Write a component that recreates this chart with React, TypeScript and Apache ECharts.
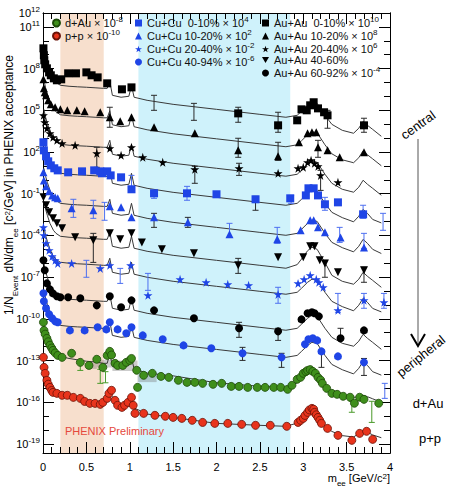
import React, { useEffect, useRef } from 'react';
import * as echarts from 'echarts';

// ---- axis ticks / labels (exponents of 10) ----
const yLabelExponents = [12, 11, 8, 5, 2, -1, -4, -7, -10, -13, -16, -19];
const yTickExponents = [12, 11, 10, 9, 8, 7, 6, 5, 4, 3, 2, 1, 0, -1, -2, -3, -4, -5, -6, -7, -8, -9, -10, -11, -12, -13, -14, -15, -16, -17, -18, -19];
const xTickLabels = ['0', '0.5', '1', '1.5', '2', '2.5', '3', '3.5', '4'];

// mass windows shaded in the figure (GeV/c^2)
const bandPeach = [0.2, 0.7];
const bandCyan = [1.1, 2.85];

// ---- model (cocktail) curves: masses and log10 of yield ----
const curveMass = [0.01, 0.03, 0.05, 0.08, 0.12, 0.15, 0.2, 0.3, 0.4, 0.5, 0.6, 0.7, 0.74, 0.77, 0.8, 0.9, 0.99, 1.02, 1.05, 1.2, 1.5, 2.0, 2.5, 2.8, 2.93, 2.98, 3.05, 3.1, 3.16, 3.25, 3.33, 3.45, 3.58, 3.64, 3.69, 3.74, 3.8, 3.9];
const auau0010Curve = [9.32, 8.74, 8.31, 7.73, 7.23, 7.01, 6.8, 6.73, 6.69, 6.66, 6.62, 6.58, 6.58, 7.09, 6.08, 5.94, 6.01, 6.8, 5.94, 5.72, 5.43, 5.07, 4.71, 4.5, 4.64, 4.93, 5.36, 5.58, 5.5, 4.64, 3.99, 3.56, 3.35, 3.71, 4.21, 3.92, 3.63, 3.13];
const auau1020Curve = [7.2, 6.62, 6.19, 5.61, 5.11, 4.89, 4.68, 4.61, 4.57, 4.54, 4.5, 4.46, 4.46, 4.97, 3.96, 3.82, 3.89, 4.68, 3.82, 3.6, 3.31, 2.95, 2.59, 2.38, 2.52, 2.81, 3.24, 3.46, 3.38, 2.52, 1.87, 1.44, 1.23, 1.59, 2.09, 1.8, 1.51, 1.01];
const auau2040Curve = [5.08, 4.5, 4.07, 3.49, 2.99, 2.77, 2.56, 2.49, 2.45, 2.42, 2.38, 2.34, 2.34, 2.85, 1.84, 1.7, 1.77, 2.56, 1.7, 1.48, 1.19, 0.83, 0.47, 0.26, 0.4, 0.69, 1.12, 1.34, 1.26, 0.4, -0.25, -0.68, -0.89, -0.53, -0.03, -0.32, -0.61, -1.11];
const cucu0010Curve = [2.99, 2.41, 1.98, 1.4, 0.9, 0.68, 0.47, 0.4, 0.36, 0.33, 0.29, 0.25, 0.25, 0.76, -0.25, -0.39, -0.32, 0.47, -0.39, -0.61, -0.9, -1.26, -1.62, -1.83, -1.69, -1.4, -0.97, -0.75, -0.83, -1.69, -2.34, -2.72, -3.02, -2.62, -2.12, -2.41, -2.85, -3.1];
const cucu1020Curve = [0.83, 0.25, -0.18, -0.76, -1.26, -1.48, -1.69, -1.76, -1.8, -1.83, -1.87, -1.91, -1.91, -1.4, -2.41, -2.55, -2.48, -1.69, -2.55, -2.77, -3.06, -3.42, -3.78, -3.99, -3.85, -3.56, -3.13, -2.91, -2.99, -3.85, -4.5, -4.88, -5.18, -4.78, -4.28, -4.57, -5.0, -5.3];
const auau4060Curve = [-1.54, -2.12, -2.55, -3.13, -3.63, -3.85, -4.06, -4.13, -4.17, -4.2, -4.24, -4.28, -4.28, -3.77, -4.78, -4.92, -4.85, -4.06, -4.92, -5.14, -5.43, -5.79, -6.15, -6.36, -6.1, -5.7, -5.1, -4.85, -5.0, -5.95, -6.87, -7.3, -7.51, -7.15, -6.65, -6.94, -7.23, -7.73];
const cucu2040Curve = [-3.41, -3.99, -4.42, -5.0, -5.5, -5.72, -5.93, -6.0, -6.04, -6.07, -6.11, -6.15, -6.15, -5.64, -6.65, -6.79, -6.72, -5.93, -6.79, -7.01, -7.3, -7.66, -8.02, -8.23, -8.09, -7.8, -7.37, -7.15, -7.23, -8.09, -8.74, -9.12, -9.42, -9.02, -8.52, -8.81, -9.25, -9.5];
const auau6092Curve = [-6.0, -6.58, -7.01, -7.59, -8.09, -8.31, -8.52, -8.59, -8.63, -8.66, -8.7, -8.74, -8.74, -8.23, -9.24, -9.38, -9.31, -8.52, -9.38, -9.6, -9.89, -10.25, -10.61, -10.82, -10.68, -10.39, -9.96, -9.74, -9.82, -10.68, -11.33, -11.76, -11.97, -11.61, -11.11, -11.4, -11.69, -12.19];
const cucu4094Curve = [-7.95, -8.53, -8.96, -9.54, -10.04, -10.26, -10.47, -10.54, -10.58, -10.61, -10.65, -10.69, -10.69, -10.18, -11.19, -11.33, -11.26, -10.47, -11.33, -11.55, -11.84, -12.2, -12.56, -12.77, -12.63, -12.34, -11.91, -11.69, -11.77, -12.63, -13.28, -13.66, -13.96, -13.56, -13.06, -13.35, -13.8, -14.05];
const dAuCurve = [-10.7, -11.15, -11.5, -11.9, -12.3, -12.5, -12.7, -12.85, -12.95, -13.05, -13.1, -13.2, -13.2, -12.5, -13.4, -13.45, -13.35, -12.8, -13.6, -13.9, -14.1, -14.6, -14.85, -14.95, -14.6, -14.2, -13.8, -13.7, -13.85, -14.7, -15.3, -15.5, -15.65, -15.6, -15.5, -15.6, -15.75, -16.0];
const ppCurve = [-13.2, -14.0, -14.5, -14.93, -15.3, -15.36, -15.45, -15.6, -15.72, -15.94, -16.08, -16.1, -15.9, -15.2, -15.6, -16.3, -16.0, -15.4, -16.4, -16.85, -17.09, -17.52, -17.66, -17.73, -17.5, -17.25, -16.75, -16.45, -16.95, -17.7, -18.1, -18.4, -18.5, -18.25, -18.05, -18.15, -18.35, -18.55];

// ---- measured points: [mass GeV/c^2, log10 yield] ----
const auau0010Pts = [[0.005, 9.46], [0.01, 8.96], [0.015, 8.6], [0.025, 8.31], [0.045, 8.02], [0.07, 7.73], [0.09, 7.52], [0.125, 7.3], [0.16, 7.16], [0.21, 7.23], [0.29, 7.66], [0.38, 7.66], [0.5, 7.73], [0.56, 7.52], [0.63, 7.37], [0.74, 6.94], [0.91, 6.51], [1.02, 6.65], [2.25, 4.78], [2.71, 3.92], [2.93, 4.28], [2.98, 5.07], [3.04, 5.0], [3.08, 5.36], [3.12, 5.58], [3.17, 5.14], [3.24, 4.86], [3.28, 4.64], [3.7, 3.92]];
const auau1020Pts = [[0.005, 7.23], [0.01, 6.58], [0.02, 6.3], [0.035, 6.08], [0.06, 5.72], [0.09, 5.43], [0.14, 5.22], [0.2, 5.07], [0.28, 5.0], [0.39, 5.0], [0.48, 4.93], [0.66, 4.86], [0.77, 4.5], [0.89, 4.21], [1.02, 4.5], [1.28, 3.78], [1.75, 3.35], [2.25, 2.12], [2.71, 1.69], [2.95, 2.7], [3.05, 3.35], [3.1, 3.42], [3.15, 3.42], [3.17, 2.34], [3.28, 2.12], [3.42, 1.62], [3.7, 1.98]];
const auau2040Pts = [[0.005, 4.64], [0.02, 4.14], [0.045, 3.71], [0.08, 3.35], [0.115, 3.06], [0.16, 2.84], [0.22, 2.63], [0.37, 2.48], [0.62, 1.91], [0.77, 2.27], [0.9, 1.76], [1.02, 2.34], [1.15, 1.62], [1.38, 1.26], [1.75, 0.76], [2.26, 0.83], [2.71, 0.47], [2.94, 0.83], [3.0, 0.9], [3.05, 1.26], [3.09, 1.4], [3.13, 1.19], [3.17, 0.97], [3.2, 0.32], [3.4, -0.18]];
const cucu0010Pts = [[0.005, 2.7], [0.01, 2.12], [0.035, 1.69], [0.06, 1.33], [0.09, 1.04], [0.13, 0.83], [0.17, 0.68], [0.29, 0.54], [0.45, 0.61], [0.59, 0.68], [0.66, 0.61], [0.68, 0.47], [0.74, 0.61], [0.78, 0.32], [0.9, 0.18], [1.02, -0.68], [1.28, -0.97], [1.66, -0.97], [2.0, -1.04], [2.45, -1.4], [2.85, -1.33], [3.03, -1.12], [3.06, -0.61], [3.12, -0.61], [3.17, -1.12], [3.25, -1.76], [3.4, -1.62], [3.69, -2.48]];
const cucu1020Pts = [[0.005, 0.54], [0.01, -0.04], [0.035, -0.47], [0.07, -0.83], [0.105, -1.12], [0.14, -1.26], [0.17, -1.33], [0.33, -2.05], [0.58, -2.19], [0.77, -1.9], [0.9, -1.98], [1.02, -2.7], [1.28, -2.7], [1.67, -3.06], [2.15, -3.92], [2.7, -4.28], [2.97, -3.63], [3.08, -2.91], [3.12, -2.91], [3.17, -3.42], [3.25, -3.78], [3.43, -4.14], [3.7, -4.86]];
const auau4060Pts = [[0.005, -1.26], [0.035, -1.83], [0.07, -2.34], [0.115, -2.77], [0.16, -3.13], [0.22, -3.49], [0.37, -4.13], [0.58, -4.35], [0.77, -3.85], [0.89, -4.28], [1.02, -3.85], [1.14, -4.5], [1.37, -5.0], [1.74, -5.29], [2.25, -6.15], [2.71, -5.57], [3.0, -5.57], [3.08, -4.78], [3.13, -4.78], [3.19, -5.79], [3.25, -6.01], [3.4, -6.65], [3.7, -6.51]];
const cucu2040Pts = [[0.005, -3.42], [0.01, -3.99], [0.035, -4.57], [0.07, -5.07], [0.105, -5.5], [0.14, -5.79], [0.17, -6.01], [0.33, -6.01], [0.66, -6.37], [0.77, -6.15], [1.01, -6.15], [1.21, -8.31], [1.58, -7.16], [1.88, -7.37], [2.13, -7.52], [2.37, -7.59], [2.71, -8.24], [2.94, -7.45], [3.01, -7.16], [3.08, -6.87], [3.15, -7.16], [3.18, -7.37], [3.23, -7.73], [3.4, -9.39], [3.7, -8.67], [3.93, -8.81]];
const auau6092Pts = [[0.005, -5.79], [0.02, -6.51], [0.045, -7.45], [0.08, -7.88], [0.115, -8.17], [0.16, -8.38], [0.2, -8.45], [0.29, -8.45], [0.43, -8.52], [0.62, -9.03], [0.77, -8.38], [0.9, -9.17], [1.02, -8.67], [1.28, -9.39], [1.74, -9.96], [2.26, -10.68], [2.71, -10.9], [2.98, -10.04], [3.05, -9.6], [3.1, -9.53], [3.13, -9.6], [3.18, -9.82], [3.43, -11.4], [3.7, -10.83]];
const cucu4094Pts = [[0.005, -8.16], [0.01, -8.74], [0.035, -9.24], [0.07, -9.67], [0.105, -9.96], [0.14, -10.18], [0.17, -10.25], [0.31, -10.83], [0.48, -10.83], [0.63, -10.61], [0.73, -10.76], [0.77, -10.25], [0.86, -10.76], [0.96, -11.04], [1.02, -10.61], [1.15, -11.19], [1.38, -11.47], [1.62, -11.91], [1.94, -12.12], [2.3, -12.48], [2.75, -12.77], [3.02, -11.83], [3.06, -11.47], [3.11, -11.4], [3.16, -11.55], [3.21, -12.34], [3.4, -12.7], [3.7, -13.13]];
const dAuPts = [[0.005, -10.25], [0.012, -10.83], [0.025, -11.1], [0.045, -11.4], [0.06, -11.65], [0.08, -11.9], [0.1, -12.1], [0.115, -12.27], [0.14, -12.45], [0.17, -12.63], [0.22, -12.77], [0.33, -12.48], [0.43, -13.13], [0.53, -13.35], [0.62, -12.91], [0.69, -13.49], [0.74, -12.63], [0.77, -12.34], [0.79, -12.6], [0.83, -13.2], [0.86, -13.35], [0.92, -13.35], [0.96, -13.13], [1.0, -12.99], [1.02, -12.85], [1.08, -13.7], [1.09, -14.93], [1.16, -14.06], [1.26, -13.92], [1.36, -14.14], [1.45, -14.21], [1.56, -14.42], [1.66, -14.57], [1.75, -14.57], [1.84, -14.64], [1.96, -14.71], [2.06, -14.64], [2.17, -14.86], [2.26, -14.86], [2.36, -14.93], [2.47, -14.93], [2.56, -14.93], [2.66, -14.93], [2.74, -14.93], [2.82, -15.07], [2.87, -14.78], [2.93, -14.35], [2.97, -14.2], [3.0, -13.92], [3.03, -13.8], [3.05, -13.71], [3.08, -13.65], [3.11, -13.78], [3.14, -13.92], [3.17, -14.21], [3.2, -14.4], [3.22, -14.64], [3.27, -15.0], [3.33, -15.36], [3.39, -15.43], [3.46, -15.57], [3.54, -15.64], [3.59, -16.07], [3.65, -15.64], [3.7, -15.79], [3.87, -16.07]];
const ppPts = [[0.005, -12.77], [0.012, -13.49], [0.025, -13.92], [0.045, -14.42], [0.06, -14.7], [0.08, -14.93], [0.1, -15.15], [0.115, -15.29], [0.16, -15.36], [0.22, -15.5], [0.28, -15.5], [0.35, -15.65], [0.43, -15.72], [0.48, -15.94], [0.54, -16.08], [0.6, -16.08], [0.66, -16.15], [0.69, -16.01], [0.74, -15.72], [0.76, -15.36], [0.79, -15.14], [0.83, -15.86], [0.86, -16.22], [0.91, -16.37], [0.94, -16.22], [0.98, -16.01], [1.02, -15.65], [1.04, -16.22], [1.06, -16.8], [1.16, -16.8], [1.29, -16.94], [1.41, -17.01], [1.5, -17.09], [1.6, -17.16], [1.72, -17.3], [1.84, -17.45], [1.98, -17.52], [2.13, -17.52], [2.29, -17.59], [2.45, -17.66], [2.62, -17.66], [2.81, -17.73], [2.94, -17.45], [2.97, -17.3], [3.0, -17.16], [3.02, -16.95], [3.05, -16.73], [3.07, -16.55], [3.1, -16.44], [3.12, -16.5], [3.13, -16.73], [3.15, -16.9], [3.17, -17.09], [3.19, -17.3], [3.21, -17.52], [3.28, -17.88], [3.4, -18.38], [3.56, -18.74], [3.65, -18.24], [3.73, -18.09], [3.8, -18.67]];

// ---- error bars: [mass, low log10, high log10] ----
const blackErrors = [[1.28, 5.0, 6.08], [1.74, 4.28, 5.5], [2.25, 4.14, 5.22], [2.71, 3.42, 4.86], [3.28, 3.71, 5.0], [3.7, 3.42, 4.43], [0.77, 3.78, 5.22], [2.25, 1.62, 2.99], [2.71, 1.4, 2.7], [3.17, 1.62, 2.84], [0.62, 0.9, 2.34], [1.75, -0.25, 0.97], [2.26, 0.32, 1.19], [3.2, -0.76, 0.68], [2.45, -2.19, -1.19], [1.28, -3.42, -2.41], [1.67, -3.42, -2.7], [0.58, -5.94, -3.85], [2.25, -6.73, -5.65], [3.25, -7.01, -5.79], [3.7, -7.37, -6.29], [2.26, -11.33, -10.25], [2.71, -11.55, -10.68], [3.43, -11.55, -10.68], [2.3, -12.99, -12.05], [2.75, -13.49, -12.48], [3.21, -13.49, -12.27], [3.7, -14.07, -12.85]];
const blueErrors = [[1.02, -0.76, 0.32], [1.28, -1.33, -0.76], [1.66, -1.47, -0.47], [2.86, -1.69, -1.12], [3.25, -2.19, -1.26], [3.69, -2.77, -1.83], [3.92, -3.63, -2.41], [0.35, -2.7, -1.4], [0.58, -2.77, -1.47], [0.71, -2.91, -1.62], [2.15, -4.14, -3.13], [2.7, -4.57, -3.42], [3.42, -4.5, -3.42], [3.7, -4.93, -3.85], [0.5, -7.01, -5.79], [0.89, -7.45, -6.37], [1.21, -7.95, -6.73], [2.71, -8.88, -7.73], [3.4, -9.53, -8.17], [3.7, -9.24, -8.17], [3.93, -9.24, -8.17], [3.94, -15.72, -14.64]];
const greenErrors = [[0.43, -13.71, -13.13], [0.66, -14.64, -13.63], [0.72, -14.6, -13.8], [3.56, -16.72, -15.93], [3.79, -17.45, -15.93]];
// ---- d+Au systematic boxes: [mass from, mass to, low log10, high log10] ----
const dAuSystBoxes = [[0.5, 0.62, -13.6, -13.1], [0.62, 0.8, -13.5, -12.95], [0.8, 1.09, -13.75, -13.0], [1.09, 1.31, -14.55, -14.05]];

const FONT = "'Liberation Sans', Arial, Helvetica, sans-serif";
const Y_MIN = -19.65;
const Y_MAX = 12;
const BLUE = '#1f45e6';
const STAR = 'path://M50,0 L61,35 L98,35 L68,57 L79,91 L50,70 L21,91 L32,57 L2,35 L39,35 Z';
const TRI_DOWN = 'path://M0,0 L100,0 L50,88 Z';

type Spec = { key: string; text: string; exp: string; pts: number[][]; curve: number[]; symbol: string; size: number; color: string; border?: string };

const specs: Spec[] = [
  { key: 'AuAu0010', text: 'Au+Au  0-10% × 10', exp: '10', pts: auau0010Pts, curve: auau0010Curve, symbol: 'rect', size: 8, color: '#000' },
  { key: 'AuAu1020', text: 'Au+Au 10-20% × 10', exp: '8', pts: auau1020Pts, curve: auau1020Curve, symbol: 'triangle', size: 8, color: '#000' },
  { key: 'AuAu2040', text: 'Au+Au 20-40% × 10', exp: '6', pts: auau2040Pts, curve: auau2040Curve, symbol: STAR, size: 9, color: '#000' },
  { key: 'AuAu4060', text: 'Au+Au 40-60%', exp: '', pts: auau4060Pts, curve: auau4060Curve, symbol: TRI_DOWN, size: 8, color: '#000' },
  { key: 'AuAu6092', text: 'Au+Au 60-92% × 10', exp: '-4', pts: auau6092Pts, curve: auau6092Curve, symbol: 'circle', size: 8, color: '#000' },
  { key: 'CuCu0010', text: 'Cu+Cu  0-10% × 10', exp: '4', pts: cucu0010Pts, curve: cucu0010Curve, symbol: 'rect', size: 8, color: BLUE },
  { key: 'CuCu1020', text: 'Cu+Cu 10-20% × 10', exp: '2', pts: cucu1020Pts, curve: cucu1020Curve, symbol: 'triangle', size: 8, color: BLUE },
  { key: 'CuCu2040', text: 'Cu+Cu 20-40% × 10', exp: '-2', pts: cucu2040Pts, curve: cucu2040Curve, symbol: STAR, size: 9, color: BLUE },
  { key: 'CuCu4094', text: 'Cu+Cu 40-94% × 10', exp: '-6', pts: cucu4094Pts, curve: cucu4094Curve, symbol: 'circle', size: 8, color: BLUE },
  { key: 'dAu', text: 'd+Au × 10', exp: '-8', pts: dAuPts, curve: dAuCurve, symbol: 'circle', size: 8, color: '#3f8f1c', border: '#1d4a08' },
  { key: 'pp', text: 'p+p × 10', exp: '-10', pts: ppPts, curve: ppCurve, symbol: 'circle', size: 8, color: '#e8341c', border: '#6a1208' },
];

const legendText: Record<string, string> = {};
specs.forEach((s) => {
  legendText[s.key] = s.exp ? `{t|${s.text}}{s|${s.exp}}` : `{t|${s.text}}`;
});

const legendRich = {
  t: { fontSize: 11, fontFamily: FONT, color: '#111', lineHeight: 15 },
  s: { fontSize: 8, fontFamily: FONT, color: '#111', lineHeight: 8, verticalAlign: 'top' },
};

function makeLegend(keys: string[], left: number) {
  return {
    data: keys,
    left,
    top: 15.5,
    orient: 'vertical',
    itemGap: 0,
    itemWidth: 7,
    itemHeight: 7,
    padding: 0,
    selectedMode: false,
    z: 10,
    formatter: (name: string) => legendText[name],
    textStyle: { rich: legendRich },
  };
}

function errorRender(color: string) {
  return (params: any, api: any) => {
    const m = api.value(0);
    const lo = api.coord([m, api.value(1)]);
    const hi = api.coord([m, api.value(2)]);
    const w = 3;
    const st = { stroke: color, lineWidth: 1 };
    return {
      type: 'group',
      children: [
        { type: 'line', shape: { x1: lo[0], y1: lo[1], x2: hi[0], y2: hi[1] }, style: st },
        { type: 'line', shape: { x1: hi[0] - w, y1: hi[1], x2: hi[0] + w, y2: hi[1] }, style: st },
        { type: 'line', shape: { x1: lo[0] - w, y1: lo[1], x2: lo[0] + w, y2: lo[1] }, style: st },
      ],
    };
  };
}

function buildOption() {
  const bandColors = ['#f7dfcd', '#cff2fb'];
  const bands = [bandPeach, bandCyan];

  const series: any[] = [];
  series.push({
    type: 'custom',
    z: 0,
    silent: true,
    data: bands,
    encode: { x: [0, 1] },
    renderItem: (params: any, api: any) => {
      const p0 = api.coord([api.value(0), Y_MAX]);
      const p1 = api.coord([api.value(1), Y_MIN]);
      return {
        type: 'rect',
        shape: { x: p0[0], y: p0[1], width: p1[0] - p0[0], height: p1[1] - p0[1] },
        style: { fill: bandColors[params.dataIndex] },
      };
    },
  });

  series.push({
    type: 'custom',
    z: 1,
    silent: true,
    data: dAuSystBoxes,
    encode: { x: [0, 1], y: [2, 3] },
    renderItem: (params: any, api: any) => {
      const p0 = api.coord([api.value(0), api.value(3)]);
      const p1 = api.coord([api.value(1), api.value(2)]);
      return {
        type: 'rect',
        shape: { x: p0[0], y: p0[1], width: p1[0] - p0[0], height: p1[1] - p0[1] },
        style: { fill: 'rgba(110,110,110,0.35)' },
      };
    },
  });

  specs.forEach((s) => {
    series.push({
      name: s.key + '-model',
      type: 'line',
      z: 2,
      silent: true,
      showSymbol: false,
      data: curveMass.map((m, i) => [m, s.curve[i]]),
      lineStyle: { color: '#3a3a3a', width: 1 },
    });
  });

  [[blackErrors, '#2a2a2a'], [blueErrors, '#4d6ff0'], [greenErrors, '#4a9a2a']].forEach(([d, c]) => {
    series.push({
      type: 'custom',
      z: 3,
      silent: true,
      data: d,
      encode: { x: 0, y: [1, 2] },
      renderItem: errorRender(c as string),
    });
  });

  specs.forEach((s) => {
    series.push({
      name: s.key,
      type: 'scatter',
      z: 4,
      silent: true,
      symbol: s.symbol,
      symbolSize: s.size,
      data: s.pts,
      itemStyle: { color: s.color, borderColor: s.border || s.color, borderWidth: s.border ? 0.8 : 0, opacity: 1 },
    });
  });

  const axisLine = { show: true, onZero: false, lineStyle: { color: '#000', width: 1 } };
  const xBase = {
    type: 'value',
    min: 0,
    max: 4,
    interval: 0.5,
    axisLine,
    splitLine: { show: false },
    axisTick: { inside: true, length: 11, lineStyle: { color: '#000' } },
    minorTick: { show: true, splitNumber: 5, length: 6, lineStyle: { color: '#000' } },
  };
  const yBase = {
    type: 'value',
    min: Y_MIN,
    max: Y_MAX,
    axisLine,
    splitLine: { show: false },
  };

  return {
    animation: false,
    backgroundColor: '#fff',
    grid: { left: 43, right: 61, top: 13, bottom: 35, containLabel: false },
    xAxis: [
      {
        ...xBase,
        position: 'bottom',
        axisLabel: {
          color: '#000',
          fontSize: 11,
          fontFamily: FONT,
          margin: 8,
          formatter: (v: number) => xTickLabels[Math.round(v * 2)] ?? '',
        },
      },
      { ...xBase, position: 'top', axisLabel: { show: false } },
    ],
    yAxis: [
      {
        ...yBase,
        position: 'left',
        axisTick: { inside: true, length: 6, customValues: yTickExponents, lineStyle: { color: '#000' } },
        axisLabel: {
          customValues: yLabelExponents,
          margin: 3,
          formatter: (v: number) => `{b|10}{e|${Math.round(v)}}`,
          rich: {
            b: { fontSize: 11, fontFamily: FONT, color: '#000', lineHeight: 15 },
            e: { fontSize: 8, fontFamily: FONT, color: '#000', lineHeight: 8, verticalAlign: 'top' },
          },
        },
      },
      { ...yBase, position: 'left', axisTick: { inside: true, length: 11, customValues: yLabelExponents, lineStyle: { color: '#000' } }, axisLabel: { show: false } },
      { ...yBase, position: 'right', axisTick: { inside: true, length: 6, customValues: yTickExponents, lineStyle: { color: '#000' } }, axisLabel: { show: false } },
      { ...yBase, position: 'right', axisTick: { inside: true, length: 11, customValues: yLabelExponents, lineStyle: { color: '#000' } }, axisLabel: { show: false } },
    ],
    legend: [
      makeLegend(['dAu', 'pp'], 52),
      makeLegend(['CuCu0010', 'CuCu1020', 'CuCu2040', 'CuCu4094'], 135),
      makeLegend(['AuAu0010', 'AuAu1020', 'AuAu2040', 'AuAu4060', 'AuAu6092'], 262),
    ],
    graphic: {
      elements: [
        {
          type: 'text',
          x: 11,
          y: 185,
          z: 100,
          rotation: Math.PI / 2,
          style: {
            text: '{a|1/N}{b|Event}{a| dN/dm}{b|ee}{a| [c}{c|2}{a|/GeV] in PHENIX acceptance}',
            align: 'center',
            verticalAlign: 'middle',
            rich: {
              a: { fontSize: 12, fontFamily: FONT, fill: '#000', lineHeight: 16, verticalAlign: 'top' },
              b: { fontSize: 8, fontFamily: FONT, fill: '#000', lineHeight: 8, verticalAlign: 'bottom' },
              c: { fontSize: 8, fontFamily: FONT, fill: '#000', lineHeight: 8, verticalAlign: 'top' },
            },
          },
        },
        {
          type: 'text',
          x: 390,
          y: 480,
          z: 100,
          style: {
            text: '{a|m}{b|ee}{a| [GeV/c}{c|2}{a|]}',
            align: 'right',
            verticalAlign: 'middle',
            rich: {
              a: { fontSize: 11, fontFamily: FONT, fill: '#000', lineHeight: 15, verticalAlign: 'top' },
              b: { fontSize: 8, fontFamily: FONT, fill: '#000', lineHeight: 8, verticalAlign: 'bottom' },
              c: { fontSize: 8, fontFamily: FONT, fill: '#000', lineHeight: 8, verticalAlign: 'top' },
            },
          },
        },
        {
          type: 'text',
          x: 65,
          y: 431,
          z: 100,
          style: { text: 'PHENIX Preliminary', fontSize: 11, fontFamily: FONT, fill: '#e5483c', verticalAlign: 'middle' },
        },
        {
          type: 'text',
          x: 418,
          y: 125,
          z: 100,
          rotation: 0.62,
          style: { text: 'central', fontSize: 13, fontFamily: FONT, fill: '#000', align: 'center', verticalAlign: 'middle' },
        },
        {
          type: 'text',
          x: 421,
          y: 356,
          z: 100,
          rotation: 0.68,
          style: { text: 'peripheral', fontSize: 13, fontFamily: FONT, fill: '#000', align: 'center', verticalAlign: 'middle' },
        },
        {
          type: 'text',
          x: 428,
          y: 403,
          z: 100,
          style: { text: 'd+Au', fontSize: 13, fontFamily: FONT, fill: '#000', align: 'center', verticalAlign: 'middle' },
        },
        {
          type: 'text',
          x: 430,
          y: 438,
          z: 100,
          style: { text: 'p+p', fontSize: 13, fontFamily: FONT, fill: '#000', align: 'center', verticalAlign: 'middle' },
        },
        {
          type: 'line',
          z: 100,
          shape: { x1: 418, y1: 139, x2: 418, y2: 346 },
          style: { stroke: '#555', lineWidth: 1 },
        },
        {
          type: 'polyline',
          z: 100,
          shape: { points: [[411, 334], [418, 346], [425, 334]] },
          style: { stroke: '#000', lineWidth: 2, fill: null },
        },
      ],
    },
    series,
  };
}

export default function App() {
  const ref = useRef<HTMLDivElement>(null);
  useEffect(() => {
    const chart = echarts.init(ref.current as HTMLDivElement, null, { renderer: 'svg' });
    chart.setOption(buildOption() as any);
    return () => chart.dispose();
  }, []);
  return (
    <div
      ref={ref}
      style={{ position: 'fixed', left: 0, top: 0, width: 451, height: 488, background: '#fff' }}
    />
  );
}
